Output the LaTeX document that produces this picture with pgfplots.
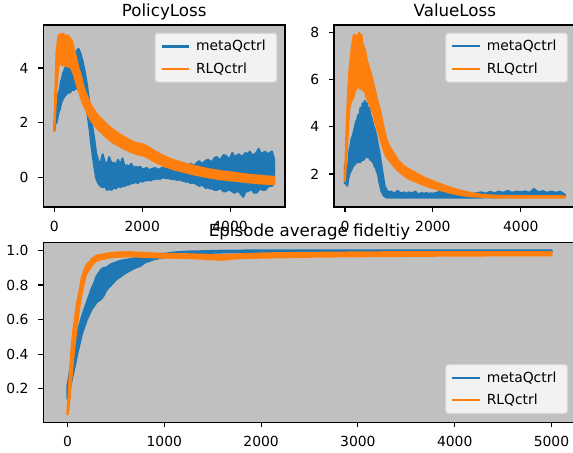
\documentclass[border=0pt]{standalone}
\usepackage{fontspec}
\setmainfont{DejaVu Sans}
\usepackage{pgfplots}
\usepackage{pgfplotstable}
\usepgfplotslibrary{fillbetween}
\pgfplotsset{compat=1.18}

\definecolor{mplblue}{HTML}{1F77B4}
\definecolor{mplorange}{HTML}{FF7F0E}
\definecolor{axbg}{HTML}{C0C0C0}
\definecolor{legbg}{HTML}{F2F2F2}
\definecolor{legedge}{HTML}{D6D6D6}

% each series is a noisy band: lower and upper edge

% PolicyLoss, metaQctrl
\pgfplotstableread{
x lo hi
0 1.7 1.8
25 2.0 2.4
50 2.0 2.8
75 2.2 2.9
100 2.4 3.1
125 2.5 3.2
150 2.7 3.5
175 2.8 3.6
200 2.9 3.8
250 3.0 4.0
300 3.1 4.2
350 3.1 4.2
400 3.2 4.3
450 3.2 4.4
500 3.3 4.6
550 3.2 4.7
600 3.2 4.5
650 3.0 4.2
700 2.8 3.8
750 2.4 3.3
800 1.8 2.7
850 1.1 2.0
900 0.5 1.5
950 0.0 0.9
1000 -0.2 0.6
1050 -0.3 0.5
1100 -0.35 0.85
1150 -0.3 0.55
1200 -0.45 0.5
1250 -0.4 0.75
1300 -0.45 0.5
1350 -0.35 0.55
1400 -0.4 0.45
1450 -0.3 0.65
1500 -0.35 0.45
1550 -0.3 0.7
1600 -0.3 0.4
1650 -0.25 0.45
1700 -0.25 0.4
1750 -0.2 0.5
1800 -0.2 0.35
1850 -0.15 0.4
1900 -0.2 0.35
1950 -0.1 0.4
2000 -0.15 0.3
2050 -0.1 0.32
2100 -0.1 0.35
2150 -0.08 0.28
2200 -0.1 0.3
2250 -0.05 0.33
2300 -0.05 0.35
2350 -0.03 0.3
2400 -0.05 0.3
2450 0.0 0.36
2500 0.0 0.35
2550 -0.02 0.32
2600 -0.02 0.38
2650 -0.04 0.34
2700 -0.05 0.35
2750 -0.06 0.38
2800 -0.08 0.4
2850 -0.07 0.36
2900 -0.1 0.38
2950 -0.12 0.42
3000 -0.15 0.45
3050 -0.14 0.4
3100 -0.2 0.5
3150 -0.18 0.46
3200 -0.2 0.45
3250 -0.25 0.55
3300 -0.3 0.6
3350 -0.26 0.5
3400 -0.3 0.55
3450 -0.38 0.62
3500 -0.35 0.65
3550 -0.4 0.58
3600 -0.4 0.6
3650 -0.45 0.72
3700 -0.45 0.75
3750 -0.4 0.65
3800 -0.4 0.7
3850 -0.5 0.82
3900 -0.5 0.8
3950 -0.45 0.72
4000 -0.45 0.7
4050 -0.5 0.9
4100 -0.55 0.75
4150 -0.5 0.8
4200 -0.5 0.85
4250 -0.6 0.78
4300 -0.7 0.8
4350 -0.5 0.9
4400 -0.5 0.85
4450 -0.45 0.95
4500 -0.45 0.8
4550 -0.55 0.85
4600 -0.55 0.9
4650 -0.45 1.05
4700 -0.4 0.85
4750 -0.45 0.9
4800 -0.45 0.95
4850 -0.35 0.85
4900 -0.3 0.9
4950 -0.3 0.95
5000 -0.2 0.7
}\policymeta

% PolicyLoss, RLQctrl
\pgfplotstableread{
x lo hi
0 1.7 1.8
25 2.5 3.3
50 3.2 4.6
75 3.8 4.9
100 4.1 5.2
125 4.2 5.1
150 4.15 5.25
175 4.1 5.2
200 4.1 5.25
250 4.1 5.15
300 4.05 5.2
350 4.05 5.1
400 3.95 5.0
450 3.75 4.65
500 3.45 4.35
550 3.2 4.0
600 2.95 3.75
650 2.7 3.4
700 2.55 3.15
750 2.35 2.95
800 2.2 2.75
850 2.05 2.6
900 1.95 2.48
950 1.85 2.35
1000 1.75 2.25
1100 1.6 2.1
1200 1.45 1.93
1300 1.32 1.8
1400 1.22 1.67
1500 1.13 1.57
1600 1.04 1.47
1700 0.97 1.38
1800 0.9 1.3
1900 0.85 1.25
2000 0.82 1.22
2100 0.75 1.15
2200 0.66 1.05
2300 0.57 0.95
2400 0.5 0.86
2500 0.42 0.78
2600 0.37 0.71
2700 0.31 0.65
2800 0.27 0.6
2900 0.23 0.55
3000 0.19 0.5
3100 0.15 0.46
3200 0.11 0.42
3300 0.08 0.38
3400 0.05 0.35
3500 0.01 0.31
3600 -0.01 0.28
3700 -0.04 0.26
3800 -0.06 0.23
3900 -0.08 0.21
4000 -0.1 0.2
4100 -0.11 0.17
4200 -0.13 0.15
4300 -0.15 0.13
4400 -0.17 0.11
4500 -0.18 0.09
4600 -0.2 0.08
4700 -0.21 0.07
4800 -0.22 0.05
4900 -0.23 0.04
5000 -0.24 0.03
}\policyrl

% ValueLoss, metaQctrl
\pgfplotstableread{
x lo hi
0 1.6 2.4
25 1.6 2.2
50 1.5 2.0
75 1.8 2.4
100 2.0 3.0
125 2.1 3.2
150 2.2 3.5
175 2.3 3.6
200 2.4 3.8
225 2.4 4.0
250 2.5 4.2
275 2.5 4.3
300 2.5 4.5
325 2.5 4.4
350 2.5 4.8
375 2.6 4.6
400 2.6 5.0
425 2.6 4.8
450 2.7 5.1
475 2.7 4.9
500 2.8 5.0
525 2.7 4.7
550 2.7 4.8
575 2.6 4.5
600 2.6 4.4
625 2.5 4.2
650 2.5 4.0
675 2.3 3.9
700 2.3 3.7
725 2.1 3.5
750 2.0 3.2
775 1.7 3.0
800 1.5 2.7
825 1.3 2.4
850 1.2 2.1
875 1.1 1.8
900 1.05 1.5
950 1.0 1.3
1000 1.0 1.22
1050 1.0 1.25
1100 1.0 1.18
1150 1.0 1.2
1200 1.0 1.28
1250 1.0 1.2
1300 1.0 1.18
1350 1.0 1.22
1400 1.0 1.15
1450 1.0 1.22
1500 1.0 1.17
1550 1.0 1.2
1600 1.0 1.25
1650 1.0 1.16
1700 1.0 1.15
1750 1.0 1.2
1800 1.0 1.14
1850 1.0 1.2
1900 1.0 1.15
1950 1.0 1.18
2000 1.0 1.16
2100 1.0 1.2
2200 1.0 1.33
2300 1.0 1.15
2400 1.0 1.2
2500 1.0 1.14
2600 1.0 1.18
2700 1.0 1.15
2800 1.0 1.2
2900 1.0 1.14
3000 1.0 1.18
3100 1.0 1.22
3200 1.01 1.16
3300 1.01 1.24
3400 1.01 1.18
3500 1.02 1.25
3600 1.02 1.2
3700 1.02 1.28
3800 1.02 1.2
3900 1.02 1.25
4000 1.03 1.22
4100 1.03 1.26
4200 1.03 1.2
4300 1.03 1.36
4400 1.03 1.22
4500 1.03 1.27
4600 1.03 1.2
4700 1.04 1.25
4800 1.04 1.2
4900 1.04 1.24
5000 1.04 1.12
}\valuemeta

% ValueLoss, RLQctrl
\pgfplotstableread{
x lo hi
0 1.7 1.8
25 2.6 3.4
50 3.2 4.6
75 4.2 5.6
100 4.8 6.4
125 5.0 6.8
150 5.1 7.3
175 5.2 7.6
200 5.3 7.9
225 5.5 7.9
250 5.6 7.5
275 5.7 7.9
300 5.7 7.6
325 5.7 8.0
350 5.6 7.7
375 5.7 7.9
400 5.6 7.5
450 5.5 7.3
500 5.2 6.8
550 5.0 6.5
600 4.75 6.2
650 4.5 5.8
700 4.1 5.4
750 3.8 5.0
800 3.5 4.7
850 3.2 4.2
900 2.9 3.8
950 2.7 3.45
1000 2.6 3.2
1100 2.35 2.9
1200 2.15 2.6
1300 2.0 2.4
1400 1.85 2.25
1500 1.75 2.15
1600 1.68 2.05
1700 1.6 1.95
1800 1.53 1.85
1900 1.46 1.77
2000 1.4 1.7
2100 1.35 1.62
2200 1.3 1.55
2300 1.25 1.48
2400 1.2 1.42
2500 1.16 1.36
2600 1.12 1.31
2700 1.09 1.26
2800 1.07 1.22
2900 1.05 1.18
3000 1.04 1.15
3100 1.03 1.12
3200 1.02 1.1
3300 1.01 1.09
3400 1.0 1.08
3600 1.0 1.07
3800 1.0 1.06
4000 1.0 1.07
4200 1.0 1.06
4400 1.0 1.06
4600 1.0 1.06
4800 1.0 1.06
5000 1.0 1.05
}\valuerl

% Episode average fidelity, metaQctrl
\pgfplotstableread{
x lo hi
0 0.14 0.22
25 0.2 0.3
50 0.27 0.38
75 0.33 0.45
100 0.4 0.52
125 0.46 0.57
150 0.52 0.62
175 0.56 0.66
200 0.6 0.7
225 0.63 0.74
250 0.66 0.78
275 0.68 0.81
300 0.7 0.85
325 0.71 0.87
350 0.72 0.89
375 0.74 0.9
400 0.77 0.9
450 0.8 0.92
500 0.83 0.93
550 0.85 0.94
600 0.87 0.945
650 0.885 0.95
700 0.9 0.955
750 0.91 0.96
800 0.93 0.965
850 0.94 0.97
900 0.95 0.975
950 0.955 0.978
1000 0.96 0.98
1100 0.97 0.988
1200 0.978 0.992
1300 0.982 0.994
1400 0.985 0.995
1600 0.988 0.998
1800 0.99 0.999
2000 0.99 1.0
2500 0.99 1.0
3000 0.99 1.0
3500 0.99 1.0
4000 0.99 1.0
4500 0.99 1.0
5000 0.99 1.0
}\fidmeta

% Episode average fidelity, RLQctrl
\pgfplotstableread{
x lo hi
0 0.05 0.08
10 0.08 0.16
20 0.13 0.26
30 0.2 0.35
40 0.26 0.42
50 0.32 0.48
60 0.38 0.54
75 0.46 0.6
90 0.53 0.66
100 0.58 0.7
115 0.64 0.74
125 0.68 0.77
140 0.73 0.82
150 0.76 0.85
165 0.8 0.87
175 0.82 0.89
190 0.86 0.91
200 0.87 0.92
225 0.89 0.93
250 0.91 0.95
275 0.93 0.96
300 0.94 0.97
350 0.95 0.975
400 0.955 0.98
450 0.96 0.985
500 0.963 0.987
600 0.965 0.99
700 0.965 0.988
800 0.962 0.985
900 0.96 0.982
1000 0.958 0.98
1200 0.956 0.978
1400 0.952 0.975
1500 0.948 0.973
1600 0.946 0.972
1700 0.952 0.975
1800 0.955 0.978
2000 0.958 0.982
2200 0.96 0.984
2400 0.962 0.985
2600 0.964 0.986
2800 0.965 0.987
3000 0.966 0.988
3500 0.968 0.99
4000 0.97 0.99
4500 0.971 0.99
5000 0.972 0.99
}\fidrl

\pgfplotsset{
  mpl/.style={
    scale only axis,
    axis background/.style={fill=axbg},
    axis on top,
    axis line style={line width=0.8pt, black},
    tick align=outside,
    tick pos=left,
    major tick length=3.5pt,
    every tick/.style={line width=0.8pt, black},
    tick label style={font=\fontsize{10}{12}\selectfont, black},
    xticklabel style={yshift=-3.2pt},
    yticklabel style={xshift=-3.6pt},
    /pgf/number format/assume math mode=true,
    /pgf/number format/1000 sep={},
    scaled ticks=false,
    xmin=-250, xmax=5250,
    every axis title/.style={at={(0.5,1)}, anchor=base, yshift=6pt, inner sep=0pt,
      font=\fontsize{12}{14}\selectfont},
    legend style={fill=legbg, draw=legedge, line width=0.8pt, rounded corners=2pt,
      font=\fontsize{10}{12}\selectfont, inner xsep=4pt, inner ysep=3pt, row sep=3pt,
      nodes={inner xsep=4pt}},
    legend cell align=left,
    legend image code/.code={\draw[#1, line width=1.5pt] (0pt,0pt) -- (20pt,0pt);},
  },
  band/.style={line width=1.5pt, line join=round, draw=#1, fill=#1},
}

\begin{document}
\begin{tikzpicture}

\begin{axis}[mpl,
  at={(31.2pt,-149.0pt)}, anchor=south west,
  width=174pt, height=131pt,
  ymin=-1.07, ymax=5.57,
  xtick={0,2000,4000}, ytick={0,2,4},
  title={PolicyLoss},
  legend style={at={(rel axis cs:1,1)}, anchor=north east, xshift=-5.5pt, yshift=-5.5pt},
]
\addplot[name path=pmlo, draw=none, forget plot] table[y=lo] {\policymeta};
\addplot[name path=pmhi, draw=none, forget plot] table[y=hi] {\policymeta};
\addplot[band=mplblue, forget plot] fill between[of=pmlo and pmhi];
\addplot[name path=prlo, draw=none, forget plot] table[y=lo] {\policyrl};
\addplot[name path=prhi, draw=none, forget plot] table[y=hi] {\policyrl};
\addplot[band=mplorange, forget plot] fill between[of=prlo and prhi];
\addlegendimage{mplblue}
\addlegendentry{metaQctrl}
\addlegendimage{mplorange}
\addlegendentry{RLQctrl}
\end{axis}

\begin{axis}[mpl,
  at={(240.5pt,-149.0pt)}, anchor=south west,
  width=174pt, height=131pt,
  ymin=0.6, ymax=8.32,
  xtick={0,2000,4000}, ytick={2,4,6,8},
  title={ValueLoss},
  legend style={at={(rel axis cs:1,1)}, anchor=north east, xshift=-5.5pt, yshift=-5.5pt},
]
\addplot[name path=vmlo, draw=none, forget plot] table[y=lo] {\valuemeta};
\addplot[name path=vmhi, draw=none, forget plot] table[y=hi] {\valuemeta};
\addplot[band=mplblue, forget plot] fill between[of=vmlo and vmhi];
\addplot[name path=vrlo, draw=none, forget plot] table[y=lo] {\valuerl};
\addplot[name path=vrhi, draw=none, forget plot] table[y=hi] {\valuerl};
\addplot[band=mplorange, forget plot] fill between[of=vrlo and vrhi];
\addlegendimage{mplblue}
\addlegendentry{metaQctrl}
\addlegendimage{mplorange}
\addlegendentry{RLQctrl}
\end{axis}

\begin{axis}[mpl,
  at={(31.2pt,-304.1pt)}, anchor=south west,
  width=383.3pt, height=129.8pt,
  ymin=0.005, ymax=1.048,
  xtick={0,1000,2000,3000,4000,5000},
  ytick={0.2,0.4,0.6,0.8,1.0},
  yticklabel style={/pgf/number format/.cd, fixed, fixed zerofill, precision=1},
  title={Episode average fideltiy},
  title style={yshift=-2.3pt},
  legend style={at={(rel axis cs:1,0)}, anchor=south east, xshift=-5.5pt, yshift=6pt},
]
\addplot[name path=fmlo, draw=none, forget plot] table[y=lo] {\fidmeta};
\addplot[name path=fmhi, draw=none, forget plot] table[y=hi] {\fidmeta};
\addplot[band=mplblue, forget plot] fill between[of=fmlo and fmhi];
\addplot[name path=frlo, draw=none, forget plot] table[y=lo] {\fidrl};
\addplot[name path=frhi, draw=none, forget plot] table[y=hi] {\fidrl};
\addplot[band=mplorange, forget plot] fill between[of=frlo and frhi];
\addlegendimage{mplblue}
\addlegendentry{metaQctrl}
\addlegendimage{mplorange}
\addlegendentry{RLQctrl}
\end{axis}

\pgfresetboundingbox
\path[use as bounding box] (0pt,0pt) rectangle (412.56pt,-326.16pt);
\end{tikzpicture}
\end{document}
